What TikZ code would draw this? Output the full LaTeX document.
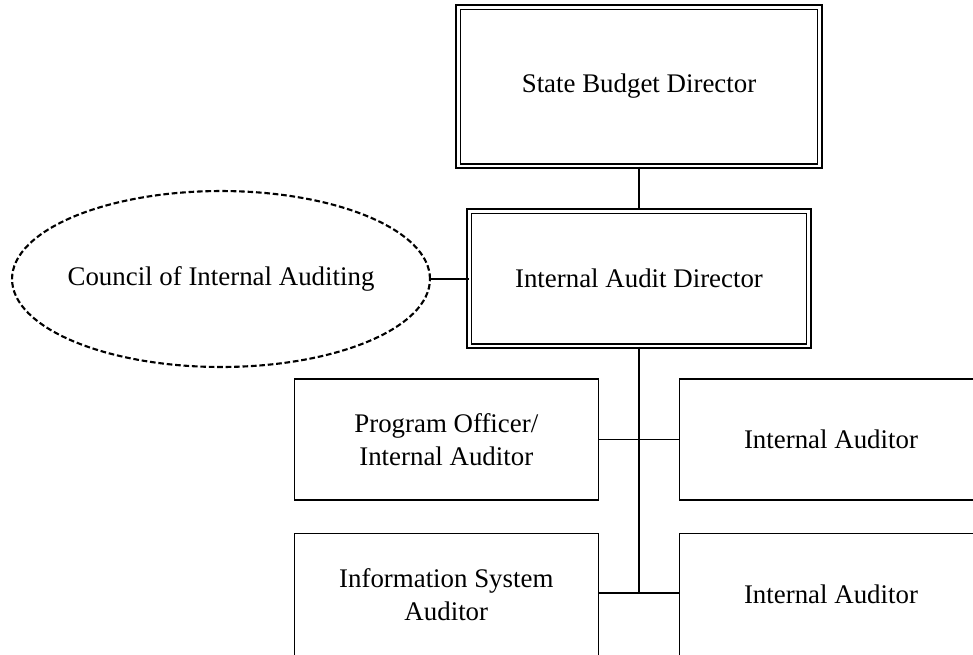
\documentclass[tikz,border=0pt]{standalone}
\usepackage{fontspec}
\setmainfont{Liberation Serif}
\usepackage{tikz}
\usetikzlibrary{shapes.geometric}

\tikzset{
  dbox/.style={draw, line width=0.6pt, double, double distance=1.7pt, align=center},
  sbox/.style={draw, line width=0.6pt, align=center, minimum width=6.08cm},
  council/.style={draw, ellipse, line width=1.2pt, dash pattern=on 3.2pt off 1.6pt, inner sep=0pt}
}

\begin{document}
\begin{tikzpicture}[x=0.02cm, y=-0.02cm, font=\fontsize{15.3}{18.7}\selectfont]
        \useasboundingbox (0,0) rectangle (973,654);
        \clip (0,0) rectangle (973,654);
        \node [dbox, minimum width=7.24cm, minimum height=3.18cm] (sbd) at (639,86.5) {State Budget Director};
        \node [dbox, minimum width=6.8cm, minimum height=2.7cm] (iad) at (639,278.5) {Internal Audit Director};
        \node [council, minimum width=8.36cm, minimum height=3.52cm] (cia) at (221,279) {\makebox[0pt][c]{Council of Internal Auditing}};
        \node [sbox, minimum height=2.42cm] (poia) at (446.3,439.5) {Program Officer/\\Internal Auditor};
        \node [sbox, minimum height=2.46cm] (isa) at (446.3,594.5) {Information System\\Auditor};
        \node [sbox, minimum height=2.42cm] (iaa) at (831,439.5) {Internal Auditor};
        \node [sbox, minimum height=2.46cm] (iab) at (831,594.5) {Internal Auditor};
        \coordinate (spine) at (639,593);
        \draw [line width=0.6pt] (sbd.south) -- (iad.north);
        \draw [line width=0.6pt] (cia.east) -- (cia.east -| iad.west);
        \draw [line width=0.8pt] (iad.south) -- (spine);
        \draw [line width=0.6pt] (poia.east) -- (iaa.west);
        \draw [line width=0.6pt] (isa.east |- spine) -- (iab.west |- spine);
    \end{tikzpicture}
\end{document}
